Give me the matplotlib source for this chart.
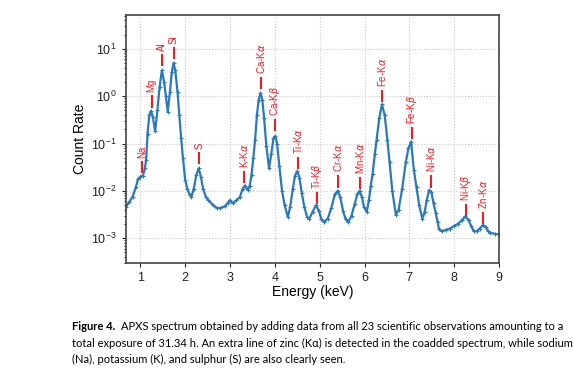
import matplotlib
matplotlib.use("Agg")
import matplotlib.pyplot as plt
import numpy as np

# spectrum (energy in keV, count rate)
energy = [0.68, 0.75, 0.83, 0.90, 0.95, 1.00, 1.06, 1.10, 1.13, 1.16, 1.20, 1.24, 1.28, 1.33,
          1.38, 1.43, 1.48, 1.53, 1.57, 1.61, 1.66, 1.70, 1.74, 1.78, 1.83, 1.87, 1.91, 1.95,
          2.00, 2.05, 2.10, 2.14, 2.19, 2.25, 2.30, 2.35, 2.40, 2.46, 2.51, 2.62, 2.70, 2.77,
          2.88, 2.95, 2.99, 3.06, 3.14, 3.22, 3.28, 3.33, 3.40, 3.44, 3.48, 3.52, 3.56, 3.60,
          3.64, 3.68, 3.72, 3.76, 3.81, 3.87, 3.92, 3.97, 4.01, 4.05, 4.10, 4.16, 4.22, 4.29,
          4.34, 4.40, 4.45, 4.50, 4.55, 4.60, 4.66, 4.72, 4.77, 4.84, 4.92, 4.98, 5.04, 5.10,
          5.18, 5.26, 5.34, 5.40, 5.46, 5.52, 5.58, 5.64, 5.71, 5.78, 5.84, 5.89, 5.94, 5.99,
          6.05, 6.10, 6.14, 6.18, 6.23, 6.27, 6.33, 6.39, 6.45, 6.51, 6.56, 6.62, 6.70, 6.76,
          6.84, 6.92, 6.98, 7.04, 7.10, 7.16, 7.22, 7.29, 7.34, 7.39, 7.44, 7.49, 7.54, 7.59,
          7.63, 7.66, 7.72, 7.81, 7.90, 7.99, 8.08, 8.17, 8.25, 8.32, 8.38, 8.44, 8.50, 8.57,
          8.64, 8.70, 8.76, 8.81, 8.90, 8.99]
counts = [4.6e-3, 5.8e-3, 7.6e-3, 0.012, 0.018, 0.020, 0.021, 0.030, 0.045, 0.16, 0.40, 0.49, 0.36, 0.18,
          0.5, 1.6, 3.5, 2.0, 1.0, 0.47, 1.2, 3.2, 5.0, 3.5, 1.2, 0.40, 0.13, 0.05,
          0.017, 0.011, 8.3e-3, 7.6e-3, 0.011, 0.022, 0.030, 0.020, 0.011, 7.6e-3, 6.5e-3, 5.0e-3, 4.4e-3, 4.3e-3,
          4.7e-3, 5.6e-3, 6.3e-3, 5.5e-3, 6.3e-3, 7.4e-3, 0.011, 0.013, 0.0104, 0.013, 0.022, 0.05, 0.12, 0.40,
          0.85, 1.17, 0.85, 0.35, 0.09, 0.030, 0.06, 0.13, 0.145, 0.10, 0.034, 0.010, 5.0e-3, 2.8e-3,
          4.5e-3, 0.011, 0.021, 0.026, 0.019, 9.0e-3, 4.5e-3, 2.8e-3, 2.6e-3, 3.6e-3, 5.0e-3, 3.8e-3, 2.5e-3, 2.2e-3,
          2.6e-3, 4.4e-3, 8.5e-3, 0.010, 7.5e-3, 3.8e-3, 2.5e-3, 2.2e-3, 3.0e-3, 5.3e-3, 8.5e-3, 0.010, 7.5e-3, 4.5e-3,
          3.6e-3, 6.5e-3, 0.013, 0.023, 0.06, 0.12, 0.35, 0.67, 0.40, 0.12, 0.04, 0.010, 3.1e-3, 4.0e-3,
          0.011, 0.04, 0.08, 0.11, 0.028, 0.012, 5.0e-3, 2.6e-3, 3.5e-3, 6.5e-3, 0.0103, 0.0095, 5.5e-3, 3.4e-3,
          2.2e-3, 1.6e-3, 1.4e-3, 1.5e-3, 1.6e-3, 1.8e-3, 2.0e-3, 2.4e-3, 2.9e-3, 2.4e-3, 1.8e-3, 1.4e-3, 1.4e-3, 1.6e-3,
          1.9e-3, 1.7e-3, 1.4e-3, 1.3e-3, 1.25e-3, 1.2e-3]

# line identifications
line_names = ['Na', 'Mg', 'Al', 'Si', 'S', r'K-K$\alpha$', r'Ca-K$\alpha$', r'Ca-K$\beta$',
              r'Ti-K$\alpha$', r'Ti-K$\beta$', r'Cr-K$\alpha$', r'Mn-K$\alpha$', r'Fe-K$\alpha$',
              r'Fe-K$\beta$', r'Ni-K$\alpha$', r'Ni-K$\beta$', r'Zn-K$\alpha$']
line_energy = [1.04, 1.25, 1.49, 1.74, 2.31, 3.31, 3.69, 4.01, 4.51, 4.93, 5.41, 5.90, 6.40,
               7.06, 7.48, 8.26, 8.64]
line_base = [0.025, 0.60, 4.5, 6.3, 0.039, 0.0155, 1.5, 0.19, 0.030, 5.5e-3, 0.0123, 0.0115, 0.79,
             0.13, 0.0123, 3.1e-3, 2.1e-3]

plt.rcParams['font.family'] = ['Liberation Sans', 'DejaVu Sans']
plt.rcParams['mathtext.fontset'] = 'dejavusans'

W, H = 573, 372
fig = plt.figure(figsize=(W / 100, H / 100), dpi=100)
ax = fig.add_axes([126 / W, 1 - 263 / H, (499 - 126) / W, (263 - 15) / H])

ax.semilogy(energy, counts, color='#2a7ab9', lw=1.6, marker='+', ms=2.5, mew=0.8)

for name, e, b in zip(line_names, line_energy, line_base):
    ax.plot([e, e], [b, b * 1.65], color='#ee1c25', lw=1.5)
    ax.text(e, b * 1.65 * 1.22, name, color='#ee1c25', rotation=90, ha='center', va='bottom',
            fontsize=7)

ax.set_xlim(0.68, 9)
ax.set_ylim(3e-4, 52)
ax.set_xticks(range(1, 10))
ax.grid(True, which='major', ls=':', color='#c8c8c8', lw=0.8)
for s in ax.spines.values():
    s.set_color('#444444')
    s.set_linewidth(1.2)
ax.tick_params(labelsize=9, colors='#222222', length=3)
ax.tick_params(which='minor', length=1.5)
ax.set_xlabel('Energy (keV)', fontsize=10, labelpad=1)
ax.set_ylabel('Count Rate', fontsize=10, labelpad=3)

# caption
cap_font = ['Lato', 'DejaVu Sans']
cap_size = 8.0
r = fig.canvas.get_renderer()
t1 = fig.text(72 / W, 1 - 327 / H, 'Figure 4.', fontweight='bold', fontsize=cap_size,
              family=cap_font, va='center')
bb = t1.get_window_extent(r)
fig.text((bb.x1 + 6) / W, 1 - 327 / H,
         'APXS spectrum obtained by adding data from all 23 scientific observations amounting to a',
         fontsize=cap_size, family=cap_font, va='center')
fig.text(72 / W, 1 - 343 / H,
         u'total exposure of 31.34 h. An extra line of zinc (K\u03b1) is detected in the coadded spectrum, while sodium',
         fontsize=cap_size, family=cap_font, va='center')
fig.text(72 / W, 1 - 359 / H,
         '(Na), potassium (K), and sulphur (S) are also clearly seen.',
         fontsize=cap_size, family=cap_font, va='center')

fig.savefig('out.png', dpi=100)
